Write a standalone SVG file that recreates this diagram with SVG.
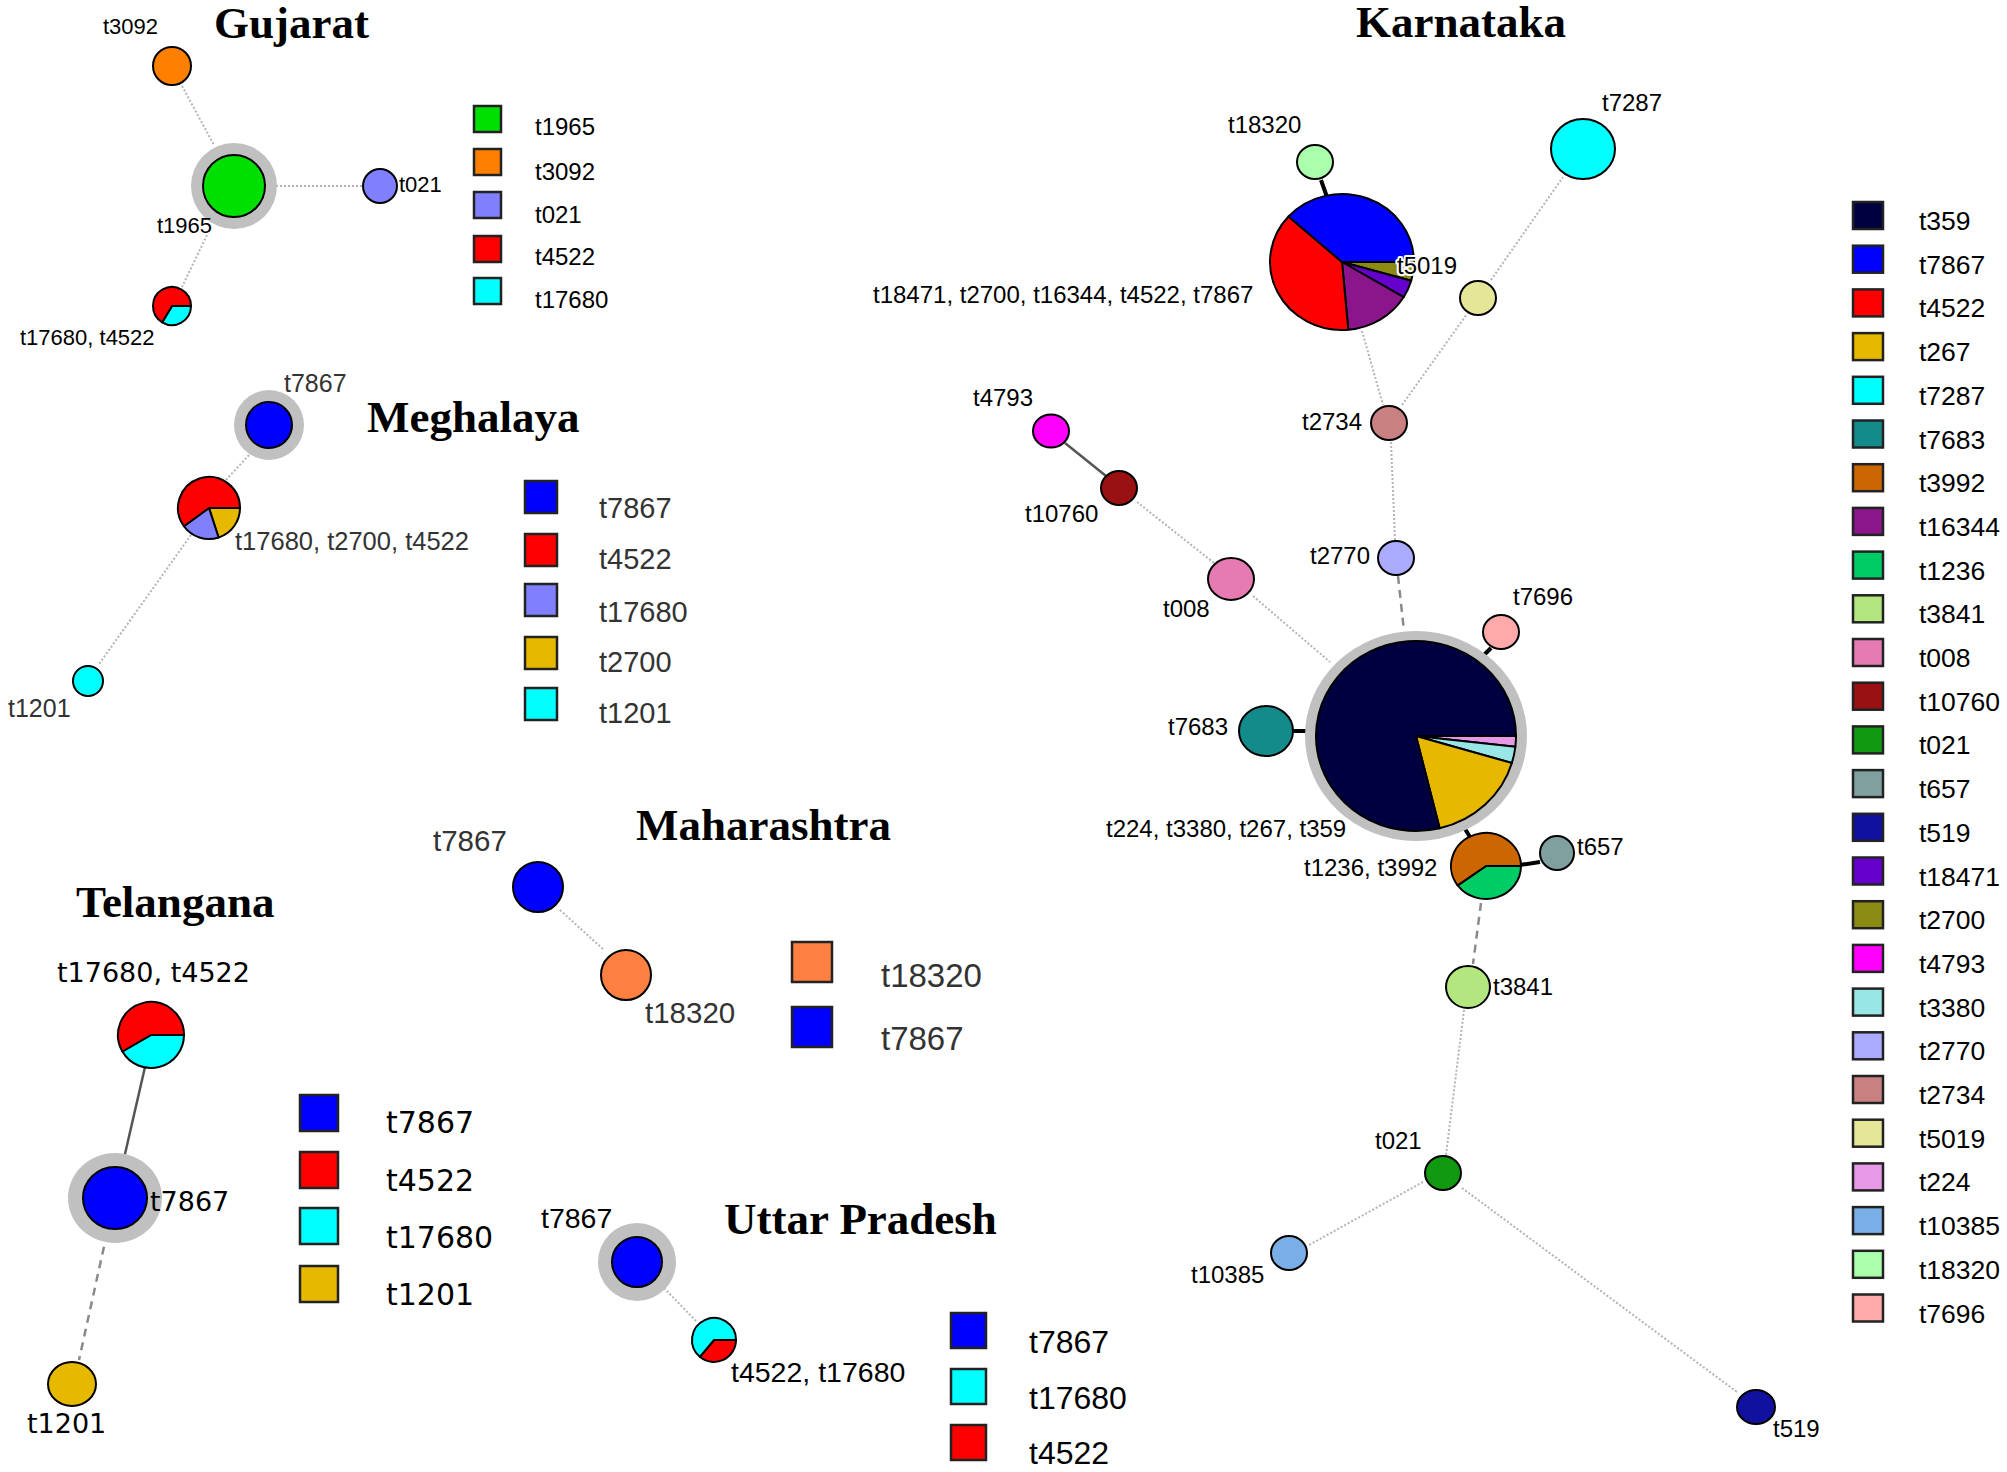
<svg xmlns="http://www.w3.org/2000/svg" width="2007" height="1472" viewBox="0 0 2007 1472">
<style>
.bg{fill:#fff}
.n{stroke:#000;stroke-width:2}
.pie{stroke:#000;stroke-width:2;stroke-linejoin:round}
.ring{fill:#c0c0c0}
.dot{stroke:#b4b4b4;stroke-width:2;stroke-dasharray:2 2;fill:none}
.dash{stroke:#8a8a8a;stroke-width:2.5;stroke-dasharray:8 6;fill:none}
.solid{stroke:#000;stroke-width:4}
.solidg{stroke:#555;stroke-width:2.5}
.sq{stroke:#222;stroke-width:2.5}
.a{font-family:"Liberation Sans",Arial,sans-serif;fill:#000}
.d{font-family:"DejaVu Sans",Verdana,sans-serif;fill:#000}
.g{fill:#333}
.title{font-family:"Liberation Serif","Times New Roman",serif;font-weight:bold;font-size:45px;fill:#000}
.halo{stroke:#fff;stroke-width:4;paint-order:stroke;stroke-linejoin:round}
</style>
<rect class="bg" x="0" y="0" width="2007" height="1472"/>

<g id="titles">
<text class="title" x="214" y="38">Gujarat</text>
<text class="title" x="367" y="432">Meghalaya</text>
<text class="title" x="76" y="917">Telangana</text>
<text class="title" x="636" y="840">Maharashtra</text>
<text class="title" x="724" y="1234">Uttar Pradesh</text>
<text class="title" x="1356" y="37">Karnataka</text>
</g>

<g id="connectors">
<!-- Gujarat -->
<line class="dot" x1="182" y1="86" x2="214" y2="145"/>
<line class="dot" x1="276" y1="186" x2="363" y2="186"/>
<line class="dot" x1="207" y1="235" x2="182" y2="287"/>
<!-- Meghalaya -->
<line class="dot" x1="249" y1="455" x2="224" y2="482"/>
<line class="dot" x1="191" y1="535" x2="99" y2="664"/>
<!-- Telangana -->
<line class="solidg" x1="145" y1="1067" x2="122" y2="1167"/>
<line class="dash" x1="107" y1="1233" x2="79" y2="1360"/>
<!-- Maharashtra -->
<line class="dot" x1="560" y1="910" x2="604" y2="950"/>
<!-- Uttar Pradesh -->
<line class="dot" x1="664" y1="1288" x2="696" y2="1321"/>
<!-- Karnataka -->
<line class="solid" x1="1321" y1="180" x2="1327" y2="197"/>
<line class="dot" x1="1362" y1="331" x2="1383" y2="405"/>
<line class="dot" x1="1402" y1="405" x2="1467" y2="314"/>
<line class="dot" x1="1491" y1="280" x2="1563" y2="177"/>
<line class="dot" x1="1391" y1="442" x2="1395" y2="540"/>
<line class="dash" x1="1398" y1="576" x2="1404" y2="631"/>
<line class="solidg" x1="1065" y1="443" x2="1106" y2="476"/>
<line class="dot" x1="1137" y1="502" x2="1214" y2="563"/>
<line class="dot" x1="1253" y1="596" x2="1330" y2="662"/>
<line class="solid" x1="1293" y1="731" x2="1316" y2="731"/>
<line class="solid" x1="1478" y1="661" x2="1491" y2="648"/>
<line class="solid" x1="1460" y1="821" x2="1470" y2="837"/>
<line class="solid" x1="1520" y1="865" x2="1540" y2="862"/>
<line class="dash" x1="1481" y1="903" x2="1473" y2="964"/>
<line class="dot" x1="1464" y1="1010" x2="1446" y2="1155"/>
<line class="dot" x1="1423" y1="1182" x2="1309" y2="1245"/>
<line class="dot" x1="1462" y1="1188" x2="1737" y2="1392"/>
</g>

<!-- ===== Gujarat ===== -->
<g id="guj-t3092"><circle class="n" cx="172" cy="66" r="19" fill="#ff8000"/><text class="a" x="103" y="34" font-size="22">t3092</text></g>
<g id="guj-t1965"><circle class="ring" cx="234" cy="186" r="43"/><circle class="n" cx="234" cy="186" r="31" fill="#00e000"/><text class="a" x="157" y="233" font-size="22">t1965</text></g>
<g id="guj-t021"><circle class="n" cx="380" cy="186" r="17" fill="#8080ff"/><text class="a" x="399" y="192" font-size="22">t021</text></g>
<g id="guj-pie">
<path class="pie" d="M172 306 L191 306 A19 19 0 0 1 162.21 322.29 Z" fill="#00ffff"/>
<path class="pie" d="M172 306 L162.21 322.29 A19 19 0 1 1 191 306 Z" fill="#ff0000"/>
<text class="a" x="20" y="345" font-size="22">t17680, t4522</text></g>
<g id="guj-legend" class="a" font-size="24">
<rect class="sq" x="474" y="106" width="27" height="26" fill="#00e000"/><text class="a" x="535" y="135">t1965</text>
<rect class="sq" x="474" y="149" width="27" height="26" fill="#ff8000"/><text class="a" x="535" y="180">t3092</text>
<rect class="sq" x="474" y="192" width="27" height="26" fill="#8080ff"/><text class="a" x="535" y="223">t021</text>
<rect class="sq" x="474" y="236" width="27" height="26" fill="#ff0000"/><text class="a" x="535" y="265">t4522</text>
<rect class="sq" x="474" y="278" width="27" height="26" fill="#00ffff"/><text class="a" x="535" y="308">t17680</text>
</g>

<!-- ===== Meghalaya ===== -->
<g id="meg-t7867"><circle class="ring" cx="269" cy="425" r="35"/><circle class="n" cx="269" cy="425" r="23" fill="#0000ff"/><text class="a g" x="284" y="392" font-size="25">t7867</text></g>
<g id="meg-pie">
<path class="pie" d="M209 508 L240 508 A31 31 0 0 1 218.58 537.48 Z" fill="#e6b800"/>
<path class="pie" d="M209 508 L218.58 537.48 A31 31 0 0 1 183.92 526.22 Z" fill="#8080ff"/>
<path class="pie" d="M209 508 L183.92 526.22 A31 31 0 1 1 240 508 Z" fill="#ff0000"/>
<text class="a g" x="235" y="550" font-size="25.5">t17680, t2700, t4522</text></g>
<g id="meg-t1201"><circle class="n" cx="88" cy="681" r="15" fill="#00ffff"/><text class="a g" x="8" y="717" font-size="25">t1201</text></g>
<g id="meg-legend" class="a g" font-size="29">
<rect class="sq" x="525" y="481" width="32" height="32" fill="#0000ff"/><text x="599" y="518">t7867</text>
<rect class="sq" x="525" y="534" width="32" height="32" fill="#ff0000"/><text x="599" y="569">t4522</text>
<rect class="sq" x="525" y="584" width="32" height="32" fill="#8080ff"/><text x="599" y="622">t17680</text>
<rect class="sq" x="525" y="637" width="32" height="32" fill="#e6b800"/><text x="599" y="672">t2700</text>
<rect class="sq" x="525" y="688" width="32" height="32" fill="#00ffff"/><text x="599" y="723">t1201</text>
</g>

<!-- ===== Telangana ===== -->
<g id="tel-pie">
<path class="pie" d="M151 1035 L184 1035 A33 33 0 0 1 122.42 1051.5 Z" fill="#00ffff"/>
<path class="pie" d="M151 1035 L122.42 1051.5 A33 33 0 1 1 184 1035 Z" fill="#ff0000"/>
<text class="d" x="57" y="982" font-size="27">t17680, t4522</text></g>
<g id="tel-t7867"><ellipse class="ring" cx="115" cy="1198" rx="47" ry="45"/><ellipse class="n" cx="115" cy="1198" rx="32" ry="31" fill="#0000ff"/><text class="d" x="150" y="1211" font-size="27">t7867</text></g>
<g id="tel-t1201"><ellipse class="n" cx="72" cy="1384" rx="24" ry="22" fill="#e6b800"/><text class="d" x="27" y="1433" font-size="27">t1201</text></g>
<g id="tel-legend" class="d" font-size="30">
<rect class="sq" x="300" y="1095" width="38" height="36" fill="#0000ff"/><text x="386" y="1133">t7867</text>
<rect class="sq" x="300" y="1152" width="38" height="36" fill="#ff0000"/><text x="386" y="1191">t4522</text>
<rect class="sq" x="300" y="1208" width="38" height="36" fill="#00ffff"/><text x="386" y="1248">t17680</text>
<rect class="sq" x="300" y="1266" width="38" height="36" fill="#e6b800"/><text x="386" y="1305">t1201</text>
</g>

<!-- ===== Maharashtra ===== -->
<g id="mah-t7867"><circle class="n" cx="538" cy="887" r="25" fill="#0000ff"/><text class="a g" x="433" y="851" font-size="29.5">t7867</text></g>
<g id="mah-t18320"><circle class="n" cx="626" cy="975" r="25" fill="#ff8040"/><text class="a g" x="645" y="1023" font-size="29.5">t18320</text></g>
<g id="mah-legend" class="a g" font-size="33">
<rect class="sq" x="792" y="942" width="40" height="40" fill="#ff8040"/><text x="881" y="987">t18320</text>
<rect class="sq" x="792" y="1007" width="40" height="40" fill="#0000ff"/><text x="881" y="1050">t7867</text>
</g>

<!-- ===== Uttar Pradesh ===== -->
<g id="up-t7867"><circle class="ring" cx="637" cy="1262" r="39"/><circle class="n" cx="637" cy="1262" r="25" fill="#0000ff"/><text class="a" x="541" y="1228" font-size="28.5">t7867</text></g>
<g id="up-pie">
<path class="pie" d="M714 1340 L736 1340 A22 22 0 0 1 699.86 1356.85 Z" fill="#ff0000"/>
<path class="pie" d="M714 1340 L699.86 1356.85 A22 22 0 1 1 736 1340 Z" fill="#00ffff"/>
<text class="a" x="731" y="1382" font-size="28.5">t4522, t17680</text></g>
<g id="up-legend" class="a" font-size="32">
<rect class="sq" x="951" y="1313" width="35" height="35" fill="#0000ff"/><text x="1029" y="1353">t7867</text>
<rect class="sq" x="951" y="1369" width="35" height="35" fill="#00ffff"/><text x="1029" y="1409">t17680</text>
<rect class="sq" x="951" y="1425" width="35" height="35" fill="#ff0000"/><text x="1029" y="1464">t4522</text>
</g>

<!-- ===== Karnataka ===== -->
<g class="a" font-size="24">
<g id="kar-t18320"><ellipse class="n" cx="1315" cy="162" rx="18" ry="17" fill="#aaffaa"/><text x="1228" y="133">t18320</text></g>
<g id="kar-t7287"><ellipse class="n" cx="1583" cy="149" rx="32" ry="30" fill="#00ffff"/><text x="1602" y="111">t7287</text></g>
<g id="kar-toppie">
<path class="pie" d="M1342 262 L1414 262 A72 68 0 0 1 1411.21 280.74 Z" fill="#8b8b14"/>
<path class="pie" d="M1342 262 L1411.21 280.74 A72 68 0 0 1 1403.72 297.02 Z" fill="#6600cc"/>
<path class="pie" d="M1342 262 L1403.72 297.02 A72 68 0 0 1 1348.28 329.74 Z" fill="#8b158b"/>
<path class="pie" d="M1342 262 L1348.28 329.74 A72 68 0 0 1 1288.50 216.50 Z" fill="#ff0000"/>
<path class="pie" d="M1342 262 L1288.50 216.50 A72 68 0 0 1 1414 262 Z" fill="#0000ff"/>
<text x="873" y="303">t18471, t2700, t16344, t4522, t7867</text>
</g>
<g id="kar-t5019"><ellipse class="n" cx="1478" cy="298" rx="18" ry="17" fill="#e6e699"/><text class="halo" x="1397" y="274">t5019</text></g>
<g id="kar-t2734"><ellipse class="n" cx="1389" cy="423" rx="18" ry="17" fill="#c88080"/><text x="1302" y="430">t2734</text></g>
<g id="kar-t4793"><ellipse class="n" cx="1051" cy="431" rx="18" ry="16.5" fill="#ff00ff"/><text x="973" y="406">t4793</text></g>
<g id="kar-t10760"><ellipse class="n" cx="1119" cy="488" rx="18" ry="17" fill="#991111"/><text x="1025" y="522">t10760</text></g>
<g id="kar-t2770"><ellipse class="n" cx="1396" cy="558" rx="18" ry="17" fill="#aaaaff"/><text x="1310" y="564">t2770</text></g>
<g id="kar-t008"><ellipse class="n" cx="1231" cy="579" rx="23" ry="21" fill="#e67ab3"/><text x="1163" y="617">t008</text></g>
<g id="kar-t7696"><ellipse class="n" cx="1501" cy="632" rx="18" ry="17" fill="#ffaaaa"/><text x="1513" y="605">t7696</text></g>
<g id="kar-t7683"><ellipse class="n" cx="1266" cy="731" rx="27" ry="25" fill="#138b8b"/><text x="1168" y="735">t7683</text></g>
<g id="kar-bigpie">
<ellipse class="ring" cx="1416" cy="736" rx="111" ry="105"/>
<path class="pie" d="M1416 736 L1516 736 A100 95 0 0 1 1515.36 746.75 Z" fill="#e699e6"/>
<path class="pie" d="M1416 736 L1515.36 746.75 A100 95 0 0 1 1511.88 762.98 Z" fill="#99e6e6"/>
<path class="pie" d="M1416 736 L1511.88 762.98 A100 95 0 0 1 1439.68 828.30 Z" fill="#e6b800"/>
<path class="pie" d="M1416 736 L1439.68 828.30 A100 95 0 1 1 1516 736 Z" fill="#000040"/>
<text x="1106" y="837">t224, t3380, t267, t359</text>
</g>
<g id="kar-pie1236">
<path class="pie" d="M1486 866 L1521 866 A35 33 0 0 1 1457.68 885.40 Z" fill="#00cc66"/>
<path class="pie" d="M1486 866 L1457.68 885.40 A35 33 0 1 1 1521 866 Z" fill="#cc6600"/>
<text x="1304" y="876">t1236, t3992</text>
</g>
<g id="kar-t657"><ellipse class="n" cx="1557" cy="853" rx="17" ry="17" fill="#80a0a0"/><text x="1577" y="855">t657</text></g>
<g id="kar-t3841"><ellipse class="n" cx="1468" cy="987" rx="22" ry="21" fill="#b3e67f"/><text x="1493" y="995">t3841</text></g>
<g id="kar-t021"><ellipse class="n" cx="1443" cy="1173" rx="18" ry="17" fill="#119911"/><text x="1375" y="1149">t021</text></g>
<g id="kar-t10385"><ellipse class="n" cx="1289" cy="1253" rx="18" ry="17" fill="#7aaee6"/><text x="1191" y="1283">t10385</text></g>
<g id="kar-t519"><ellipse class="n" cx="1756" cy="1407" rx="19" ry="17" fill="#1111a0"/><text x="1773" y="1437">t519</text></g>
</g>

<g id="kar-legend" class="a" font-size="26.5">
<rect class="sq" x="1853" y="202" width="30" height="27" fill="#000040"/><text x="1919" y="230">t359</text>
<rect class="sq" x="1853" y="245.7" width="30" height="27" fill="#0000ff"/><text x="1919" y="273.7">t7867</text>
<rect class="sq" x="1853" y="289.4" width="30" height="27" fill="#ff0000"/><text x="1919" y="317.4">t4522</text>
<rect class="sq" x="1853" y="333.1" width="30" height="27" fill="#e6b800"/><text x="1919" y="361.1">t267</text>
<rect class="sq" x="1853" y="376.8" width="30" height="27" fill="#00ffff"/><text x="1919" y="404.8">t7287</text>
<rect class="sq" x="1853" y="420.5" width="30" height="27" fill="#138b8b"/><text x="1919" y="448.5">t7683</text>
<rect class="sq" x="1853" y="464.2" width="30" height="27" fill="#cc6600"/><text x="1919" y="492.2">t3992</text>
<rect class="sq" x="1853" y="507.9" width="30" height="27" fill="#8b158b"/><text x="1919" y="535.9">t16344</text>
<rect class="sq" x="1853" y="551.6" width="30" height="27" fill="#00cc66"/><text x="1919" y="579.6">t1236</text>
<rect class="sq" x="1853" y="595.3" width="30" height="27" fill="#b3e67f"/><text x="1919" y="623.3">t3841</text>
<rect class="sq" x="1853" y="639" width="30" height="27" fill="#e67ab3"/><text x="1919" y="667">t008</text>
<rect class="sq" x="1853" y="682.7" width="30" height="27" fill="#991111"/><text x="1919" y="710.7">t10760</text>
<rect class="sq" x="1853" y="726.4" width="30" height="27" fill="#119911"/><text x="1919" y="754.4">t021</text>
<rect class="sq" x="1853" y="770.1" width="30" height="27" fill="#80a0a0"/><text x="1919" y="798.1">t657</text>
<rect class="sq" x="1853" y="813.8" width="30" height="27" fill="#1111a0"/><text x="1919" y="841.8">t519</text>
<rect class="sq" x="1853" y="857.5" width="30" height="27" fill="#6600cc"/><text x="1919" y="885.5">t18471</text>
<rect class="sq" x="1853" y="901.2" width="30" height="27" fill="#8b8b14"/><text x="1919" y="929.2">t2700</text>
<rect class="sq" x="1853" y="944.9" width="30" height="27" fill="#ff00ff"/><text x="1919" y="972.9">t4793</text>
<rect class="sq" x="1853" y="988.6" width="30" height="27" fill="#99e6e6"/><text x="1919" y="1016.6">t3380</text>
<rect class="sq" x="1853" y="1032.3" width="30" height="27" fill="#aaaaff"/><text x="1919" y="1060.3">t2770</text>
<rect class="sq" x="1853" y="1076" width="30" height="27" fill="#c88080"/><text x="1919" y="1104">t2734</text>
<rect class="sq" x="1853" y="1119.7" width="30" height="27" fill="#e6e699"/><text x="1919" y="1147.7">t5019</text>
<rect class="sq" x="1853" y="1163.4" width="30" height="27" fill="#e699e6"/><text x="1919" y="1191.4">t224</text>
<rect class="sq" x="1853" y="1207.1" width="30" height="27" fill="#7aaee6"/><text x="1919" y="1235.1">t10385</text>
<rect class="sq" x="1853" y="1250.8" width="30" height="27" fill="#aaffaa"/><text x="1919" y="1278.8">t18320</text>
<rect class="sq" x="1853" y="1294.5" width="30" height="27" fill="#ffaaaa"/><text x="1919" y="1322.5">t7696</text>
</g>
</svg>
